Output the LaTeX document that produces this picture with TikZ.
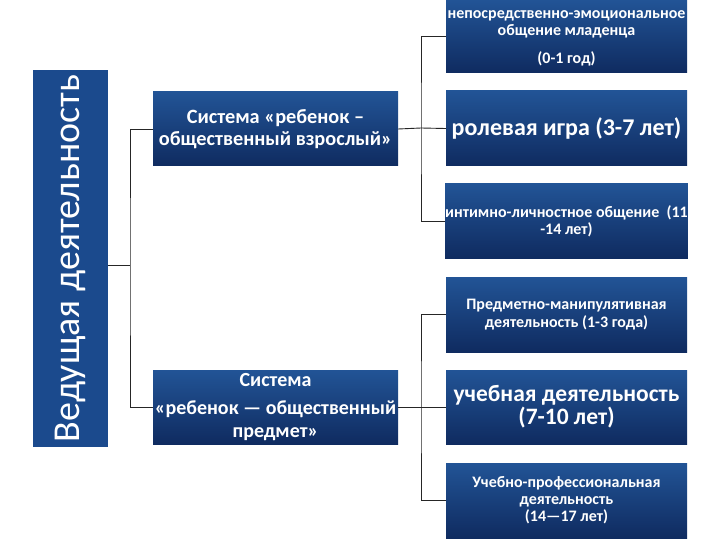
\documentclass[tikz,border=0pt]{standalone}
\usepackage{fontspec}
\setmainfont{Carlito}
\definecolor{btop}{RGB}{34,84,150}
\definecolor{bbot}{RGB}{15,43,96}
\definecolor{lbox}{RGB}{27,74,141}
\newcommand{\fsz}[2]{\fontsize{#1}{#2}\selectfont}
\begin{document}
\begin{tikzpicture}[x=1pt,y=1pt,
  box/.style={shade, top color=btop, bottom color=bbot, draw=none, text=white,
    align=center, inner sep=0pt, minimum width=241pt, minimum height=74pt},
  midbox/.style={box, minimum width=245pt},
  conn/.style={draw=black!85, line width=0.9pt}]
\useasboundingbox (0,0) rectangle (720,-540);
\fill[white] (0,0) rectangle (720,-540);
% left vertical box
\node[fill=lbox, minimum width=75pt, minimum height=377pt, inner sep=0pt] (lead) at (70.5,-258.5) {};
\node[rotate=90, text=white, font=\fsz{38}{40}, inner sep=0pt] (leadtxt) at (lead.center) {Ведущая деятельность};
% middle boxes
\node[midbox, minimum height=74pt, font=\bfseries\fsz{20.3}{22}] (m1) at (275.5,-129) {Система «ребенок –\\общественный взрослый»};
\node[midbox, minimum height=74pt, font=\bfseries\fsz{20}{23}] (m2) at (275.5,-407) {Система\\[5pt]«ребенок — общественный\\предмет»};
% right boxes
\node[box, minimum height=73pt] (r1) at (566.5,-36.5) {};
\node[text=white, align=center, inner sep=0pt, font=\bfseries\fsz{16}{17}, anchor=north] (r1t) at (566.5,-10) {непосредственно-эмоциональное\\общение младенца\\[11pt](0-1 год)};
\node[box, minimum height=75pt, font=\bfseries\fsz{24}{26}] (r2) at (566.5,-128.5) {ролевая игра (3-7 лет)};
\node[box, minimum height=74pt, font=\bfseries\fsz{16}{17}] (r3) at (566.5,-221) {интимно-личностное общение \ (11\\-14 лет)};
\node[box, minimum height=75pt, font=\bfseries\fsz{16}{18}] (r4) at (566.5,-314.5) {Предметно-манипулятивная\\деятельность (1-3 года)};
\node[box, minimum height=74pt, font=\bfseries\fsz{23.5}{23}] (r5) at (566.5,-407) {учебная деятельность\\(7-10 лет)};
\node[box, minimum height=75pt, font=\bfseries\fsz{16}{17}] (r6) at (566.5,-500.5) {Учебно-профессиональная\\деятельность\\(14—17 лет)};
% connectors
\coordinate (lb) at (130,-265);
\coordinate (rb1) at (421,-128);
\coordinate (rb2) at (421,-407);
\draw[conn] (lead.east |- lb) -- (lb);
\draw[conn] (m1.west) -| (lb) |- (m2.west);
\draw[conn] (m1.east) -- (rb1);
\draw[conn] (r1.west) -| (rb1) |- (r3.west);
\draw[conn] (rb1) -- (r2.west);
\draw[conn] (m2.east) -- (rb2);
\draw[conn] (r4.west) -| (rb2) |- (r6.west);
\draw[conn] (rb2) -- (r5.west);
\end{tikzpicture}
\end{document}
